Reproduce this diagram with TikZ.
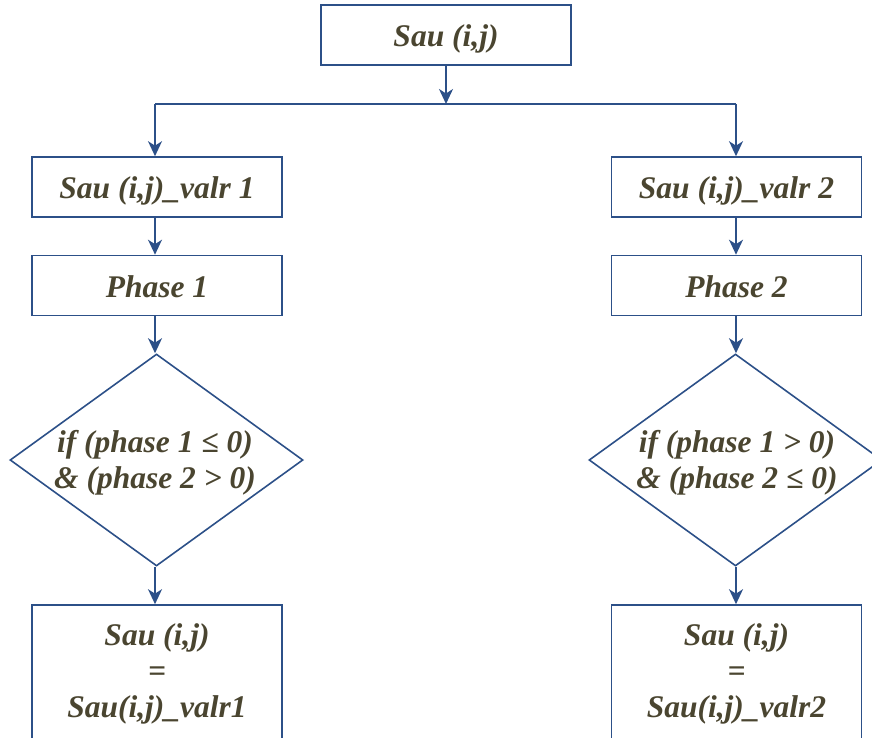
\documentclass[tikz,border=0pt]{standalone}
\usepackage{fontspec}
\setmainfont{Liberation Serif}
\usetikzlibrary{shapes.geometric,arrows.meta}
\definecolor{linec}{HTML}{2C5088}
\definecolor{textc}{HTML}{4A4530}
\begin{document}
\begin{tikzpicture}[x=1pt,y=-1pt,
  box/.style={draw=linec,line width=1.6pt,fill=white,minimum width=250pt,minimum height=60pt,inner sep=0pt,
    text=textc,font=\fontsize{31.5}{36}\selectfont\bfseries\itshape,align=center,text height=24pt,text depth=0pt},
  dia/.style={draw=linec,line width=1.6pt,shape=diamond,minimum width=293pt,minimum height=212pt,inner sep=0pt},
  txt/.style={text=textc,font=\fontsize{31.5}{36}\selectfont\bfseries\itshape,align=center,inner sep=0pt},
  arr/.style={draw=linec,line width=1.8pt,-{Stealth[length=15pt,width=14pt,inset=4.5pt]}},
  ln/.style={draw=linec,line width=1.8pt}]
\useasboundingbox (0,0) rectangle (872,738);
\clip (0,0) rectangle (872,738);
\node[box] (top) at (446,35) {Sau (i,j)};
\coordinate (split) at (446,104);
\coordinate (lsplit) at (155,104);
\coordinate (rsplit) at (736,104);
\node[box] (l1) at (157,187) {Sau (i,j)\_valr 1};
\node[box] (r1) at (736.5,187) {Sau (i,j)\_valr 2};
\node[box] (l2) at (157,285.5) {Phase 1};
\node[box] (r2) at (736.5,285.5) {Phase 2};
\node[dia] (ld) at (156.5,460) {};
\node[dia] (rd) at (735.5,460) {};
\node[txt] (ldt) at (155,463) {if (phase 1 ≤ 0)\\\& (phase 2 > 0)};
\node[txt] (rdt) at (737,463) {if (phase 1 > 0)\\\& (phase 2 ≤ 0)};
\node[box,minimum height=170pt] (lb) at (157,690) {};
\node[box,minimum height=170pt] (rb) at (736.5,690) {};
\node[txt] (lbt) at (157,674) {Sau (i,j)\\=\\Sau(i,j)\_valr1};
\node[txt] (rbt) at (736.5,674) {Sau (i,j)\\=\\Sau(i,j)\_valr2};
\draw[arr] (top.south) -- (split);
\draw[ln] (lsplit) -- (rsplit);
\draw[arr] (lsplit) -- (l1.north -| lsplit);
\draw[arr] (rsplit) -- (r1.north -| rsplit);
\draw[arr] (l1.south -| lsplit) -- (l2.north -| lsplit);
\draw[arr] (r1.south -| rsplit) -- (r2.north -| rsplit);
\draw[arr] (l2.south -| lsplit) -- (ld.north -| lsplit);
\draw[arr] (r2.south -| rsplit) -- (rd.north -| rsplit);
\draw[arr] (ld.south -| lsplit) -- (lb.north -| lsplit);
\draw[arr] (rd.south -| rsplit) -- (rb.north -| rsplit);
\end{tikzpicture}
\end{document}
